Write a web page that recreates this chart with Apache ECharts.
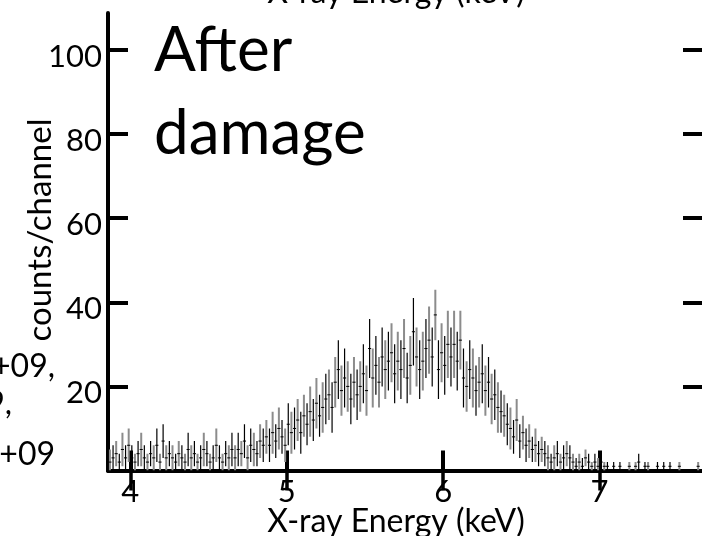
<!DOCTYPE html>
<html>
<head>
<meta charset="utf-8">
<script src="https://cdn.jsdelivr.net/npm/echarts@6/dist/echarts.min.js"></script>
<style>
html, body { margin: 0; padding: 0; background: #fff; }
#chart { width: 702px; height: 536px; }
</style>
</head>
<body>
<div id="chart"></div>
<script>
// Spectrum binning (keV)
const binStart = 3.86;
const binWidth = 0.02;

// Counts per channel, one value per bin
const counts = [
  2, 3, 4, 2, 5, 3, 6, 3, 2, 4,
  5, 3, 2, 4, 3, 6, 2, 7, 3, 4,
  3, 2, 4, 3, 2, 5, 3, 4, 2, 3,
  5, 4, 2, 3, 6, 3, 2, 4, 3, 5,
  3, 5, 4, 7, 3, 6, 5, 4, 7, 6,
  8, 6, 9, 7, 10, 8, 6, 11, 9, 10,
  12, 9, 13, 11, 14, 12, 16, 13, 15, 17,
  18, 15, 21, 24, 19, 22, 20, 17, 21, 18,
  20, 23, 19, 29, 22, 25, 21, 27, 24, 26,
  28, 23, 26, 24, 29, 22, 25, 33, 27, 24,
  26, 29, 31, 27, 37, 24, 28, 25, 30, 27,
  30, 26, 31, 22, 20, 24, 22, 19, 21, 23,
  19, 21, 17, 18, 15, 14, 13, 11, 10, 8,
  12, 7, 9, 6, 7, 5, 6, 4, 5, 4,
  3, 2, 3, 4, 2, 3, 4, 3, 2, 1,
  2, 1, 3, 2, 1, 2, 1, 2, 1, 1,
  0, 1, 0, 1, 0, 0, 1, 0, 1, 2,
  0, 1, 1, 0, 0, 1, 0, 1, 0, 1,
  0, 0, 1, 0, 0, 0, 0, 0, 1, 0
];

// Statistical error (half-length of the vertical bar) per bin
const errors = [
  3, 3, 3, 2, 4, 3, 4, 3, 2, 3,
  4, 3, 2, 3, 3, 4, 2, 4, 3, 3,
  3, 2, 3, 3, 2, 4, 3, 3, 2, 3,
  4, 3, 2, 3, 4, 3, 2, 3, 3, 4,
  3, 4, 3, 4, 3, 4, 4, 3, 4, 4,
  4, 4, 5, 4, 5, 4, 4, 5, 5, 5,
  5, 5, 5, 5, 6, 5, 6, 5, 6, 6,
  6, 6, 6, 7, 6, 7, 6, 6, 6, 6,
  6, 7, 6, 7, 7, 7, 6, 7, 7, 7,
  7, 7, 7, 7, 7, 6, 7, 8, 7, 7,
  7, 7, 8, 7, 6, 7, 7, 7, 8, 7,
  8, 7, 7, 7, 6, 7, 7, 6, 6, 7,
  6, 6, 6, 6, 6, 5, 5, 5, 5, 4,
  5, 4, 4, 4, 4, 3, 4, 3, 3, 3,
  3, 2, 3, 3, 2, 3, 3, 3, 2, 2,
  2, 2, 2, 2, 1, 2, 2, 2, 1, 1,
  0, 1, 0, 1, 0, 0, 1, 0, 1, 2,
  0, 1, 1, 0, 0, 1, 0, 1, 0, 1,
  0, 0, 1, 0, 0, 0, 0, 0, 1, 0
];

const xTicks = [4, 5, 6, 7];
const yTicks = [20, 40, 60, 80, 100];

const points = counts.map((c, i) => [binStart + binWidth * (i + 0.5), c, errors[i], i]);

const FONT = 'Lato, "Open Sans", sans-serif';

const chart = echarts.init(document.getElementById('chart'), null, { renderer: 'canvas' });

chart.setOption({
  animation: false,
  backgroundColor: '#fff',
  grid: { left: 108, top: 13, width: 595, height: 457.5, containLabel: false },
  xAxis: [
    {
      type: 'value', position: 'bottom',
      min: 3.8577, max: 7.6546,
      axisLine: { show: true, lineStyle: { color: '#000', width: 4 } },
      axisTick: { show: true, inside: true, length: 20, customValues: xTicks, lineStyle: { color: '#000', width: 4 } },
      axisLabel: { show: true, customValues: xTicks, color: '#000', fontSize: 31, fontFamily: FONT, margin: 6 },
      splitLine: { show: false }
    },
    {
      type: 'value', position: 'top',
      min: 3.8577, max: 7.6546,
      axisLine: { show: true, lineStyle: { color: '#000', width: 3.5 } },
      axisTick: { show: true, inside: true, length: 20, customValues: xTicks, lineStyle: { color: '#000', width: 3.5 } },
      axisLabel: { show: false },
      splitLine: { show: false }
    }
  ],
  yAxis: [
    {
      type: 'value', position: 'left',
      min: 0, max: 108.8,
      axisLine: { show: true, lineStyle: { color: '#000', width: 4 } },
      axisTick: { show: true, inside: true, length: 20, customValues: yTicks, lineStyle: { color: '#000', width: 4 } },
      axisLabel: {
        show: true, customValues: yTicks, margin: 6,
        formatter: '{t|{value}}',
        rich: { t: { color: '#000', fontSize: 31, fontFamily: FONT, padding: [14, 0, 0, 0] } }
      },
      splitLine: { show: false }
    },
    {
      type: 'value', position: 'right',
      min: 0, max: 108.8,
      axisLine: { show: false },
      axisTick: { show: true, inside: true, length: 19, customValues: yTicks, lineStyle: { color: '#000', width: 4 } },
      axisLabel: { show: false },
      splitLine: { show: false }
    }
  ],
  series: [
    {
      type: 'custom',
      xAxisIndex: 0, yAxisIndex: 0,
      clip: true,
      data: points,
      renderItem: function (params, api) {
        const x = api.value(0), v = api.value(1), e = api.value(2), k = api.value(3);
        const lo = Math.max(0, v - e), hi = v + e;
        const pTop = api.coord([x, hi]);
        const pBot = api.coord([x, lo]);
        const pL = api.coord([x - binWidth / 2, v]);
        const pR = api.coord([x + binWidth / 2, v]);
        const gray = k % 2 === 0;
        const col = gray ? '#8c8c8c' : '#000';
        return {
          type: 'group',
          children: [
            { type: 'line', shape: { x1: pTop[0], y1: pTop[1], x2: pBot[0], y2: pBot[1] },
              style: { stroke: col, lineWidth: gray ? 2 : 1.2 } },
            { type: 'line', shape: { x1: pL[0], y1: pL[1], x2: pR[0], y2: pR[1] },
              style: { stroke: '#000', lineWidth: 1 } }
          ]
        };
      }
    }
  ],
  graphic: [
    { type: 'text', left: 154, top: 20,
      style: { text: 'After', fill: '#000', font: '62px ' + FONT } },
    { type: 'text', left: 154, top: 103,
      style: { text: 'damage', fill: '#000', font: '62px ' + FONT } },
    { type: 'text', x: 396, y: 9,
      style: { text: 'X-ray Energy (keV)', fill: '#000', font: '32px ' + FONT, align: 'center', verticalAlign: 'bottom' } },
    { type: 'text', x: 396, y: 538,
      style: { text: 'X-ray Energy (keV)', fill: '#000', font: '32px ' + FONT, align: 'center', verticalAlign: 'bottom' } },
    { type: 'text', x: 40, y: 230, rotation: Math.PI / 2,
      style: { text: 'counts/channel', fill: '#000', font: '33px ' + FONT, align: 'center', verticalAlign: 'middle' } },
    { type: 'text', x: 55, y: 367,
      style: { text: 'e+09,', fill: '#000', font: '32px ' + FONT, align: 'right', verticalAlign: 'middle' } },
    { type: 'text', x: 12, y: 404,
      style: { text: '9,', fill: '#000', font: '32px ' + FONT, align: 'right', verticalAlign: 'middle' } },
    { type: 'text', x: 55, y: 455,
      style: { text: 'e+09', fill: '#000', font: '32px ' + FONT, align: 'right', verticalAlign: 'middle' } }
  ]
});
</script>
</body>
</html>
